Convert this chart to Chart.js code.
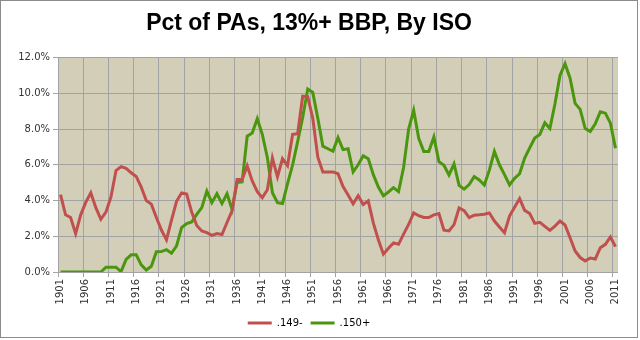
<!DOCTYPE html>
<html>
<head>
<meta charset="utf-8">
<script src="https://cdn.jsdelivr.net/npm/chart.js@4.4.1/dist/chart.umd.min.js"></script>
<style>
  html, body { margin: 0; padding: 0; background: #fff; }
  #wrap { width: 640px; height: 340px; position: relative; }
</style>
</head>
<body>
<div id="wrap"><canvas id="myChart" width="640" height="340"></canvas></div>
<script>
// categories
const years = [
  1901, 1902, 1903, 1904, 1905, 1906, 1907, 1908, 1909, 1910,
  1911, 1912, 1913, 1914, 1915, 1916, 1917, 1918, 1919, 1920,
  1921, 1922, 1923, 1924, 1925, 1926, 1927, 1928, 1929, 1930,
  1931, 1932, 1933, 1934, 1935, 1936, 1937, 1938, 1939, 1940,
  1941, 1942, 1943, 1944, 1945, 1946, 1947, 1948, 1949, 1950,
  1951, 1952, 1953, 1954, 1955, 1956, 1957, 1958, 1959, 1960,
  1961, 1962, 1963, 1964, 1965, 1966, 1967, 1968, 1969, 1970,
  1971, 1972, 1973, 1974, 1975, 1976, 1977, 1978, 1979, 1980,
  1981, 1982, 1983, 1984, 1985, 1986, 1987, 1988, 1989, 1990,
  1991, 1992, 1993, 1994, 1995, 1996, 1997, 1998, 1999, 2000,
  2001, 2002, 2003, 2004, 2005, 2006, 2007, 2008, 2009, 2010,
  2011
];

// percent of PAs, .149- BBP by ISO
const low = [
  4.33, 3.20, 3.05, 2.15, 3.20, 3.90, 4.43, 3.60, 2.95, 3.35,
  4.20, 5.68, 5.90, 5.80, 5.55, 5.35, 4.75, 4.00, 3.80, 3.05,
  2.35, 1.80, 2.90, 3.96, 4.43, 4.36, 3.35, 2.60, 2.30, 2.20,
  2.05, 2.15, 2.10, 2.77, 3.42, 5.18, 5.18, 5.94, 5.10, 4.50,
  4.16, 4.60, 6.38, 5.33, 6.34, 5.95, 7.70, 7.74, 9.84, 9.82,
  8.60, 6.43, 5.60, 5.60, 5.60, 5.50, 4.78, 4.31, 3.82, 4.27,
  3.78, 3.98, 2.75, 1.80, 1.00, 1.33, 1.63, 1.55, 2.12, 2.66,
  3.31, 3.15, 3.05, 3.05, 3.20, 3.27, 2.34, 2.30, 2.65, 3.58,
  3.43, 3.04, 3.18, 3.20, 3.23, 3.30, 2.85, 2.52, 2.20, 3.13,
  3.63, 4.11, 3.45, 3.27, 2.72, 2.78, 2.55, 2.33, 2.57, 2.85,
  2.63, 1.92, 1.18, 0.81, 0.62, 0.78, 0.73, 1.36, 1.55, 1.96,
  1.42
];

// percent of PAs, .150+ BBP by ISO
const high = [
  0.00, 0.00, 0.00, 0.00, 0.00, 0.00, 0.00, 0.00, 0.00, 0.27,
  0.27, 0.27, 0.02, 0.71, 0.96, 0.96, 0.40, 0.11, 0.32, 1.13,
  1.14, 1.25, 1.05, 1.46, 2.48, 2.71, 2.80, 3.22, 3.60, 4.53,
  3.88, 4.38, 3.83, 4.38, 3.50, 5.01, 5.04, 7.60, 7.78, 8.58,
  7.70, 6.40, 4.44, 3.88, 3.83, 4.95, 6.00, 7.30, 8.65, 10.24,
  10.05, 8.60, 7.04, 6.90, 6.76, 7.52, 6.85, 6.90, 5.60, 6.00,
  6.50, 6.34, 5.45, 4.75, 4.27, 4.48, 4.72, 4.50, 5.85, 8.00,
  9.05, 7.48, 6.75, 6.75, 7.56, 6.18, 5.97, 5.43, 6.05, 4.85,
  4.64, 4.89, 5.34, 5.15, 4.87, 5.70, 6.75, 6.00, 5.45, 4.87,
  5.24, 5.50, 6.38, 6.95, 7.50, 7.70, 8.35, 8.03, 9.40, 11.00,
  11.66, 10.85, 9.44, 9.10, 8.03, 7.87, 8.30, 8.97, 8.89, 8.33,
  6.93
];

const seriesNames = [".149-", ".150+"];
const seriesColors = ["#C0504D", "#4A960F"];
const yTicks = [0, 2, 4, 6, 8, 10, 12];
const labelEvery = 5;

const gridGray = "#A3A3A3";
const plotFill = "#D3CEB7";

// tan plot area + outer chart border
const chartFrame = {
  id: "chartFrame",
  beforeDraw(chart) {
    const { ctx, chartArea: a } = chart;
    ctx.save();
    ctx.fillStyle = "#ffffff";
    ctx.fillRect(0, 0, chart.width, chart.height);
    ctx.fillStyle = plotFill;
    ctx.fillRect(a.left, a.top, a.right - a.left, a.bottom - a.top);
    ctx.restore();
  },
  afterDraw(chart) {
    const { ctx } = chart;
    ctx.save();
    ctx.strokeStyle = "#8C8C8C";
    ctx.lineWidth = 1;
    ctx.strokeRect(0.5, 0.5, chart.width - 3, chart.height - 3);
    ctx.restore();
  }
};

const ctx = document.getElementById("myChart");

new Chart(ctx, {
  type: "line",
  data: {
    labels: years.map(String),
    datasets: [
      {
        label: seriesNames[0],
        data: low,
        borderColor: seriesColors[0],
        backgroundColor: seriesColors[0],
        borderWidth: 3,
        pointRadius: 0,
        tension: 0
      },
      {
        label: seriesNames[1],
        data: high,
        borderColor: seriesColors[1],
        backgroundColor: seriesColors[1],
        borderWidth: 3,
        pointRadius: 0,
        tension: 0
      }
    ]
  },
  options: {
    responsive: false,
    animation: false,
    events: [],
    layout: { padding: { top: 2, right: 22, bottom: 2, left: 0 } },
    plugins: {
      title: {
        display: true,
        text: "Pct of PAs, 13%+ BBP, By ISO",
        color: "#000",
        font: { family: "'Liberation Sans', Arial, sans-serif", size: 23, weight: "bold" },
        padding: { top: 8, bottom: 20 }
      },
      legend: {
        position: "bottom",
        labels: {
          usePointStyle: true,
          pointStyle: "line",
          pointStyleWidth: 24,
          boxHeight: 8,
          padding: 8,
          color: "#000",
          font: { family: "'DejaVu Sans', Verdana, sans-serif", size: 10 }
        }
      },
      tooltip: { enabled: false }
    },
    scales: {
      x: {
        type: "category",
        offset: true,
        afterFit: (s) => { s.height = 38; },
        grid: {
          offset: true,
          drawOnChartArea: true,
          tickLength: 5,
          color: (c) => (c.index % labelEvery === 0 || c.index === years.length) ? gridGray : "transparent",
          lineWidth: 1
        },
        border: { display: false },
        ticks: {
          autoSkip: false,
          maxRotation: 90,
          minRotation: 90,
          padding: 2,
          color: "#333",
          font: { family: "'DejaVu Sans', Verdana, sans-serif", size: 10 },
          callback: (v, i) => (i % labelEvery === 0 ? String(years[i]) : "")
        }
      },
      y: {
        min: yTicks[0],
        max: yTicks[yTicks.length - 1],
        afterFit: (s) => { s.width = 58; },
        afterBuildTicks: (s) => { s.ticks = yTicks.map((v) => ({ value: v })); },
        grid: { color: gridGray, lineWidth: 1, tickLength: 5 },
        border: { color: gridGray },
        ticks: {
          padding: 3,
          color: "#333",
          font: { family: "'DejaVu Sans', Verdana, sans-serif", size: 10 },
          callback: (v) => v.toFixed(1) + "%"
        }
      }
    }
  },
  plugins: [chartFrame]
});
</script>
</body>
</html>
